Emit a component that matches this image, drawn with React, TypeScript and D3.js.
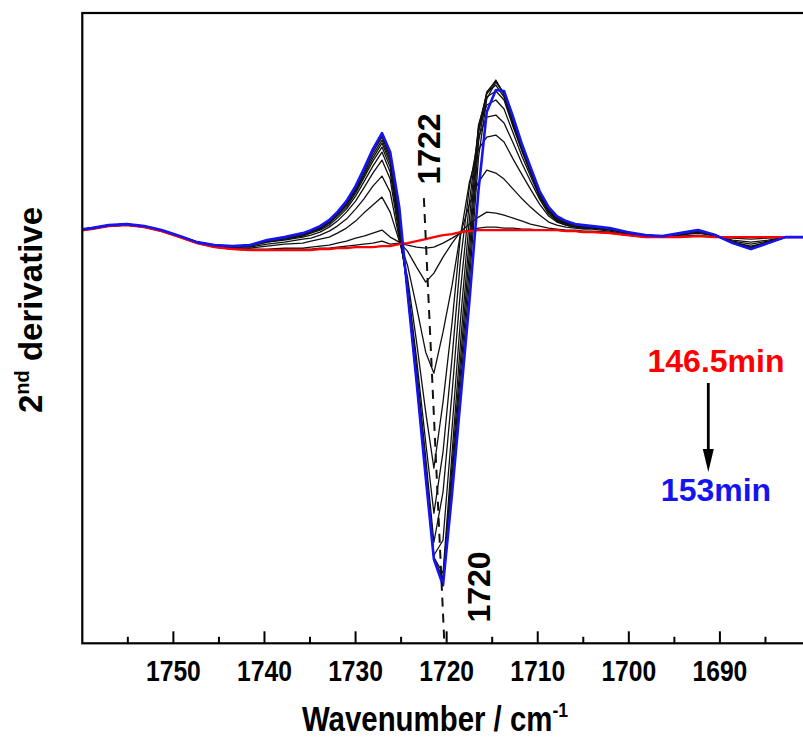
import React from 'react';
import * as d3 from 'd3';

// Wavenumber grid (cm-1)
const wavenumbers = [
  1760.9, 1759.0, 1757.1, 1755.1, 1753.2, 1751.3, 1749.3, 1747.4, 1745.5, 1743.5, 1741.6, 1739.7, 1737.8,
  1735.8, 1734.9, 1733.9, 1732.9, 1732.0, 1731.0, 1730.0, 1729.1, 1728.1, 1727.1,
  1726.2, 1725.2, 1724.3, 1723.3, 1722.3, 1721.4, 1720.4, 1719.4, 1718.5, 1717.5, 1716.5,
  1715.6, 1714.6, 1713.7, 1712.7, 1711.7, 1710.8, 1709.8, 1708.8, 1707.9, 1706.9, 1705.9, 1705.0, 1704.0,
  1702.1, 1700.2, 1698.2, 1696.3, 1694.4, 1692.4, 1690.5, 1688.6, 1686.6, 1684.7, 1682.8, 1680.9, 1678.9,
];

// 2nd derivative (arbitrary units) — first spectrum, 146.5 min
const spec146_5 = [
  6, 8, 11, 12, 10, 6, 0, -6, -10, -12, -13, -13, -13,
  -13, -13, -12, -12, -11, -11, -10, -10, -10, -9,
  -9, -7, -6, -4, -2, 0, 2, 3, 5, 6, 7,
  7, 7, 7, 7, 7, 7, 7, 7, 7, 6, 6, 5, 5,
  4, 2, 0, 0, 0, 1, 0, 0, 0, 0, 0, 0, 0,
];

// intermediate spectra (black)
const inter01 = [
  6, 8, 11, 12, 10, 6, 0, -6, -10, -12, -13, -13, -12,
  -12, -12, -11, -11, -10, -9, -8, -7, -6, -4,
  -7, -6, -8, -10, -11, -10, -6, -1, 4, 7, 9,
  10, 10, 9, 9, 8, 8, 7, 7, 7, 6, 6, 5, 5,
  4, 2, 0, 0, 0, 1, 0, 0, 0, 0, 0, 0, 0,
];
const inter02 = [
  6, 8, 11, 12, 10, 6, 0, -6, -10, -12, -12, -12, -11,
  -11, -10, -9, -8, -6, -4, -1, 1, 4, 7,
  0, -5, -14, -30, -45, -36, -20, -6, 5, 13, 20,
  25, 24, 22, 19, 16, 13, 11, 9, 8, 7, 7, 6, 6,
  5, 2, 0, 0, 1, 2, 0, -1, -2, -1, 0, 0, 0,
];
const inter03 = [
  6, 8, 11, 12, 10, 6, 0, -6, -9, -11, -11, -9, -7,
  -6, -4, -2, 0, 4, 9, 16, 24, 32, 40,
  25, -4, -28, -70, -115, -136, -95, -48, 3, 33, 55,
  67, 64, 58, 48, 38, 30, 22, 15, 12, 10, 9, 8, 8,
  6, 3, 1, 0, 2, 4, 1, -3, -5, -3, 0, 0, 0,
];
const inter04 = [
  7, 9, 12, 13, 11, 7, 1, -5, -9, -10, -10, -7, -5,
  -2, -1, 2, 6, 11, 18, 28, 38, 51, 61,
  45, -2, -40, -105, -175, -231, -165, -85, 0, 55, 88,
  100, 102, 95, 78, 62, 48, 33, 21, 15, 12, 10, 9, 9,
  7, 4, 1, 1, 2, 5, 1, -4, -7, -4, 0, 0, 0,
];
const inter05 = [
  7, 9, 12, 13, 11, 7, 1, -5, -8, -10, -9, -5, -3,
  0, 2, 5, 10, 16, 25, 36, 49, 64, 77,
  58, 2, -46, -122, -205, -276, -215, -120, -25, 50, 100,
  120, 122, 114, 94, 73, 56, 38, 23, 16, 12, 10, 9, 9,
  8, 4, 2, 1, 3, 6, 2, -5, -9, -5, 0, 0, 0,
];
const inter06 = [
  7, 9, 12, 13, 11, 7, 1, -5, -8, -10, -9, -5, -2,
  1, 4, 7, 12, 19, 28, 41, 55, 71, 85,
  65, 6, -50, -130, -220, -305, -255, -155, -55, 35, 108,
  132, 137, 128, 104, 80, 61, 40, 25, 17, 13, 11, 10, 9,
  8, 4, 2, 1, 3, 6, 2, -5, -10, -5, 0, 0, 0,
];
const inter07 = [
  7, 9, 12, 13, 11, 7, 1, -5, -8, -9, -9, -4, -2,
  2, 5, 8, 14, 21, 30, 44, 59, 76, 90,
  70, 10, -52, -138, -230, -318, -303, -190, -85, 18, 112,
  140, 146, 137, 110, 85, 64, 42, 26, 17, 13, 11, 10, 10,
  8, 5, 2, 1, 4, 6, 2, -5, -11, -5, 0, 0, 0,
];
const inter08 = [
  7, 9, 12, 13, 11, 7, 1, -5, -8, -9, -8, -4, -1,
  2, 5, 9, 14, 22, 32, 46, 61, 79, 94,
  74, 14, -53, -141, -235, -320, -336, -215, -108, 0, 110,
  144, 152, 140, 112, 86, 65, 42, 26, 17, 14, 12, 11, 10,
  9, 5, 2, 1, 4, 7, 2, -5, -11, -5, 0, 0, 0,
];
const inter09 = [
  7, 9, 12, 13, 11, 7, 1, -5, -8, -9, -8, -4, -1,
  3, 6, 10, 15, 23, 33, 47, 63, 82, 97,
  77, 18, -54, -143, -237, -321, -341, -228, -125, -15, 104,
  145, 156, 142, 114, 88, 66, 43, 27, 18, 14, 12, 11, 10,
  9, 5, 2, 1, 4, 7, 2, -6, -11, -6, 0, 0, 0,
];
const inter10 = [
  7, 9, 12, 13, 11, 7, 1, -5, -8, -9, -8, -3, 0,
  3, 6, 10, 16, 24, 34, 49, 65, 85, 100,
  80, 22, -55, -144, -238, -321, -344, -238, -138, -30, 95,
  143, 157, 143, 116, 89, 67, 44, 28, 19, 15, 12, 11, 10,
  9, 5, 2, 1, 4, 7, 2, -6, -12, -6, 0, 0, 0,
];
const inter11 = [
  7, 9, 12, 13, 11, 7, 1, -5, -8, -9, -8, -3, 0,
  4, 7, 11, 17, 24, 35, 50, 67, 87, 102,
  82, 26, -55, -145, -239, -322, -346, -246, -150, -45, 80,
  138, 155, 144, 117, 90, 68, 44, 29, 20, 15, 12, 11, 10,
  9, 5, 2, 1, 4, 7, 2, -6, -12, -6, 0, 0, 0,
];

// last spectrum, 153 min
const spec153 = [
  7, 9, 12, 13, 11, 7, 1, -5, -8, -9, -8, -3, 0,
  4, 7, 11, 17, 25, 36, 51, 68, 88, 104,
  85, 30, -55, -145, -240, -322, -348, -256, -165, -64, 47,
  125, 147, 146, 120, 92, 70, 46, 30, 21, 16, 13, 12, 11,
  9, 5, 2, 1, 4, 7, 2, -6, -12, -6, 0, 0, 0,
];

const intermediate = [inter01, inter02, inter03, inter04, inter05, inter06, inter07, inter08, inter09, inter10, inter11];

const majorTicks = [1750, 1740, 1730, 1720, 1710, 1700, 1690];
const minorTicks = [1755, 1745, 1735, 1725, 1715, 1705, 1695, 1685];

// dashed guide 1722 -> 1720
const guideWn = [1722.5, 1720.25];
const guideVal = [39, -406];

const xDomain = [1760, 1680];
const yDomain = [-406, 224];

const W = 803;
const H = 744;
const L = 82.3;
const R = 811;
const T = 13;
const B = 643.3;
const FONT = '"Liberation Sans", Arial, Helvetica, sans-serif';

export default function App() {
  const x = d3.scaleLinear().domain(xDomain).range([L, R]);
  const y = d3.scaleLinear().domain(yDomain).range([B, T]);
  const line = d3
    .line<number>()
    .x((_, i) => x(wavenumbers[i]))
    .y((d) => y(d))
    .curve(d3.curveLinear);

  return (
    <svg
      width={W}
      height={H}
      style={{ position: 'absolute', left: 0, top: 0, display: 'block', background: '#fff' }}
    >
      <defs>
        <clipPath id="plot">
          <rect x={L} y={T} width={R - L} height={B - T} />
        </clipPath>
      </defs>
      <rect x={0} y={0} width={W} height={H} fill="#fff" />
      <g clipPath="url(#plot)">
        {intermediate.map((s, i) => (
          <path key={i} d={line(s) || ''} fill="none" stroke="#111" strokeWidth={1.3} strokeLinejoin="round" />
        ))}
        <path d={line(spec146_5) || ''} fill="none" stroke="#ff0000" strokeWidth={2.4} strokeLinejoin="round" />
        <path d={line(spec153) || ''} fill="none" stroke="#1414f0" strokeWidth={2.6} strokeLinejoin="round" />
        <line
          x1={x(guideWn[0])}
          y1={y(guideVal[0])}
          x2={x(guideWn[1])}
          y2={y(guideVal[1])}
          stroke="#111"
          strokeWidth={2}
          strokeDasharray="9 7"
        />
      </g>
      {/* frame */}
      <rect x={L} y={T} width={R - L} height={B - T} fill="none" stroke="#000" strokeWidth={2.2} />
      {/* ticks */}
      {majorTicks.map((t) => (
        <line key={'M' + t} x1={x(t)} x2={x(t)} y1={B} y2={B - 12} stroke="#000" strokeWidth={2} />
      ))}
      {minorTicks.map((t) => (
        <line key={'m' + t} x1={x(t)} x2={x(t)} y1={B} y2={B - 6.5} stroke="#000" strokeWidth={2} />
      ))}
      {majorTicks.map((t) => (
        <text
          key={'l' + t}
          transform={`translate(${x(t)},681) scale(0.85,1)`}
          textAnchor="middle"
          fontFamily={FONT}
          fontWeight="bold"
          fontSize={29}
          fill="#000"
        >
          {t}
        </text>
      ))}
      {/* x title */}
      <text
        transform="translate(435,731) scale(0.84,1)"
        textAnchor="middle"
        fontFamily={FONT}
        fontWeight="bold"
        fontSize={35}
        fill="#000"
      >
        Wavenumber / cm
        <tspan fontSize={21} dy={-14}>-1</tspan>
      </text>
      {/* y title */}
      <text
        transform="translate(42,310) rotate(-90)"
        textAnchor="middle"
        fontFamily={FONT}
        fontWeight="bold"
        fontSize={33}
        fill="#000"
      >
        2<tspan fontSize={20} dy={-13}>nd</tspan>
        <tspan dy={13}> derivative</tspan>
      </text>
      {/* peak labels */}
      <text
        transform="translate(440,149) rotate(-90)"
        textAnchor="middle"
        fontFamily={FONT}
        fontWeight="bold"
        fontSize={32}
        fill="#000"
      >
        1722
      </text>
      <text
        transform="translate(490,587) rotate(-90)"
        textAnchor="middle"
        fontFamily={FONT}
        fontWeight="bold"
        fontSize={32}
        fill="#000"
      >
        1720
      </text>
      {/* legend */}
      <text x={716} y={372} textAnchor="middle" fontFamily={FONT} fontWeight="bold" fontSize={32} fill="#ff0000">
        146.5min
      </text>
      <line x1={708.3} y1={383} x2={708.3} y2={452} stroke="#000" strokeWidth={2.8} />
      <polygon points="702.8,449 713.8,449 708.3,472" fill="#000" />
      <text x={716} y={501} textAnchor="middle" fontFamily={FONT} fontWeight="bold" fontSize={32} fill="#1414f0">
        153min
      </text>
    </svg>
  );
}
